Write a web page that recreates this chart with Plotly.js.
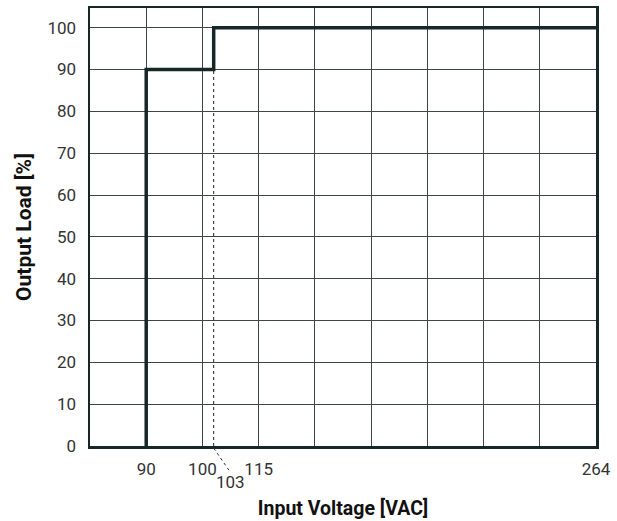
<!DOCTYPE html>
<html>
<head>
<meta charset="utf-8">
<script src="https://cdn.plot.ly/plotly-3.0.1.min.js"></script>
<style>html,body{margin:0;padding:0;background:#fff;}#chart{width:617px;height:521px;}</style>
</head>
<body>
<div id="chart"></div>
<script>
// Data
var voltage = [90, 90, 103, 103, 264];
var load = [0, 90, 90, 100, 100];
var markerVoltage = [103, 103];
var markerLoad = [0, 90];
// Axis: non-linear voltage scale (grid divisions)
var axisVolts = [80, 90, 100, 115, 264];
var axisPos = [0, 1, 2, 3, 9];
var tickPositions = [1, 2, 3, 4, 5, 6, 7, 8, 9];
var tickLabels = ['90', '100', '115', '', '', '', '', '', '264'];
var yTicks = [0, 10, 20, 30, 40, 50, 60, 70, 80, 90, 100];

function toPos(v) {
  for (var i = 0; i < axisVolts.length - 1; i++) {
    if (v <= axisVolts[i + 1]) {
      return axisPos[i] + (v - axisVolts[i]) / (axisVolts[i + 1] - axisVolts[i]) * (axisPos[i + 1] - axisPos[i]);
    }
  }
  return axisPos[axisPos.length - 1];
}

var FONT = '"Roboto", "Liberation Sans", sans-serif';
var lineColor = '#172626';
var xMax = axisPos[axisPos.length - 1];
var p103 = toPos(103) / xMax;

var traces = [
  {
    x: markerVoltage.map(toPos), y: markerLoad, mode: 'lines',
    line: {color: '#222', width: 1, dash: 'dot'}, hoverinfo: 'skip', showlegend: false
  },
  {
    x: voltage.map(toPos), y: load, mode: 'lines',
    line: {color: lineColor, width: 3.5}, showlegend: false
  }
];

var layout = {
  width: 617, height: 521,
  margin: {l: 90, r: 21, t: 8, b: 75},
  paper_bgcolor: '#fff', plot_bgcolor: '#fff',
  font: {family: FONT, size: 17, color: '#222'},
  xaxis: {
    range: [0, xMax], tickmode: 'array', tickvals: tickPositions, ticktext: tickLabels,
    showgrid: true, gridcolor: '#3f4545', gridwidth: 1,
    zeroline: false, showline: true, linecolor: lineColor, linewidth: 2.5, mirror: true,
    ticks: '', ticklabelstandoff: 6,
    tickfont: {family: FONT, size: 17, color: '#333'},
    title: {text: '<b>Input Voltage [VAC]</b>', font: {family: FONT, size: 19.5, color: '#111'}, standoff: 24},
    fixedrange: true
  },
  yaxis: {
    range: [0, 104.7], tickmode: 'array', tickvals: yTicks,
    showgrid: true, gridcolor: '#3f4545', gridwidth: 1,
    zeroline: false, showline: true, linecolor: lineColor, linewidth: 2.5, mirror: true,
    ticks: '', ticklabelstandoff: 8,
    tickfont: {family: FONT, size: 17, color: '#333'},
    title: {text: '<b>Output Load [%]</b>', font: {family: FONT, size: 21, color: '#111'}, standoff: 10},
    fixedrange: true
  },
  shapes: [
    {type: 'line', xref: 'paper', yref: 'paper', x0: p103, y0: -0.005, x1: p103 + 0.03, y1: -0.055,
     line: {color: '#333', width: 1, dash: 'dot'}}
  ],
  annotations: [
    {xref: 'paper', yref: 'paper', x: p103 + 0.033, y: -0.055, text: '103', showarrow: false,
     xanchor: 'center', yanchor: 'top', font: {family: FONT, size: 17, color: '#333'}}
  ]
};

Plotly.newPlot('chart', traces, layout, {displayModeBar: false, staticPlot: true});
</script>
</body>
</html>
